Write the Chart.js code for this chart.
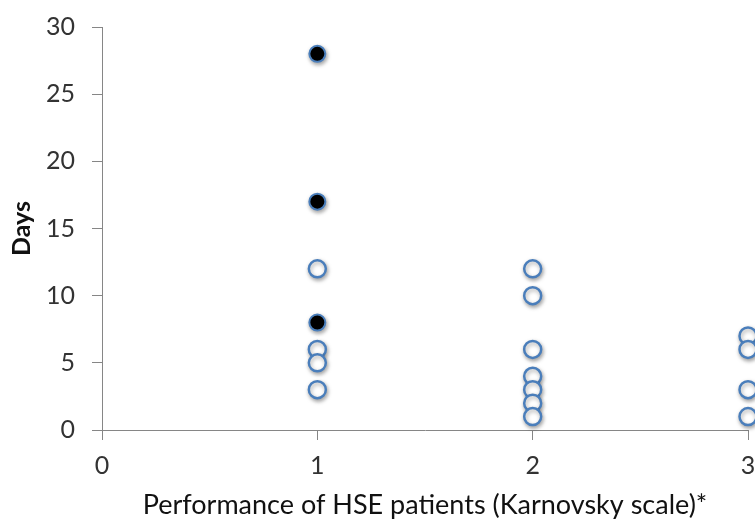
<!DOCTYPE html>
<html>
<head>
<meta charset="utf-8">
<script src="https://cdn.jsdelivr.net/npm/chart.js@4"></script>
<style>
  html, body { margin: 0; padding: 0; background: #fff; overflow: hidden; }
  /* slightly wider than the window: the original is cropped at x = 3 */
  #wrap { width: 759px; height: 523px; }
</style>
</head>
<body>
<div id="wrap"><canvas id="scatter-chart"></canvas></div>
<script>
// Karnovsky score (x) and days (y) - open circles
const openX = [1, 1, 1, 1, 2, 2, 2, 2, 2, 2, 2, 3, 3, 3, 3];
const openY = [12, 6, 5, 3, 12, 10, 6, 4, 3, 2, 1, 7, 6, 3, 1];

// filled (black) circles
const filledX = [1, 1, 1];
const filledY = [28, 17, 8];

const xTicks = [0, 1, 2, 3];
const yTicks = [0, 5, 10, 15, 20, 25, 30];

const toPoints = (xs, ys) => xs.map((x, i) => ({ x: x, y: ys[i] }));

const markerBlue = '#4a7ebb';
const axisGrey = '#868686';

// soft drop shadow under the markers, like the original
const shadowPlugin = {
    id: 'markerShadow',
    beforeDatasetsDraw(chart) {
        const ctx = chart.ctx;
        ctx.save();
        ctx.shadowColor = 'rgba(0,0,0,0.35)';
        ctx.shadowBlur = 4;
        ctx.shadowOffsetX = 1;
        ctx.shadowOffsetY = 2;
    },
    afterDatasetsDraw(chart) {
        chart.ctx.restore();
    }
};

const scatterChart = new Chart(document.getElementById('scatter-chart'), {
    type: 'scatter',
    data: {
        datasets: [{
            label: 'open',
            data: toPoints(openX, openY),
            backgroundColor: '#ffffff',
            borderColor: markerBlue,
            borderWidth: 2.5,
            pointRadius: 8.5,
            pointHoverRadius: 8.5,
            clip: false
        }, {
            label: 'filled',
            data: toPoints(filledX, filledY),
            backgroundColor: '#000000',
            borderColor: markerBlue,
            borderWidth: 2,
            pointRadius: 8,
            pointHoverRadius: 8,
            clip: false
        }]
    },
    options: {
        responsive: true,
        maintainAspectRatio: false,
        animation: false,
        layout: {
            padding: { top: 27, right: 0, left: 0, bottom: 0 }
        },
        scales: {
            x: {
                type: 'linear',
                min: 0,
                max: 3,
                afterBuildTicks: axis => { axis.ticks = xTicks.map(v => ({ value: v })); },
                afterFit: axis => {
                    axis.height = 93;
                    axis.paddingLeft = 0;
                    axis.paddingRight = 0;
                },
                grid: { drawOnChartArea: false, drawTicks: true, tickLength: 10, color: axisGrey },
                border: { color: axisGrey, width: 1 },
                ticks: {
                    color: '#333',
                    padding: 11,
                    font: { family: 'Lato', size: 25 }
                },
                title: {
                    display: true,
                    text: 'Performance of HSE patients (Karnovsky scale)*',
                    color: '#111',
                    padding: { top: 0, bottom: 2 },
                    font: { family: 'Lato', size: 27 }
                }
            },
            y: {
                type: 'linear',
                min: 0,
                max: 30,
                afterBuildTicks: axis => { axis.ticks = yTicks.map(v => ({ value: v })); },
                afterFit: axis => {
                    axis.width = 102;
                    axis.paddingTop = 0;
                    axis.paddingBottom = 0;
                },
                grid: { drawOnChartArea: false, drawTicks: true, tickLength: 10, color: axisGrey },
                border: { color: axisGrey, width: 1 },
                ticks: {
                    color: '#333',
                    padding: 17,
                    font: { family: 'Lato', size: 25 }
                },
                title: {
                    display: true,
                    text: 'Days',
                    color: '#111',
                    padding: { top: 7, bottom: 0 },
                    font: { family: 'Lato', size: 25, weight: 'bold' }
                }
            }
        },
        plugins: {
            legend: { display: false },
            tooltip: { enabled: false }
        }
    },
    plugins: [shadowPlugin]
});
</script>
</body>
</html>
